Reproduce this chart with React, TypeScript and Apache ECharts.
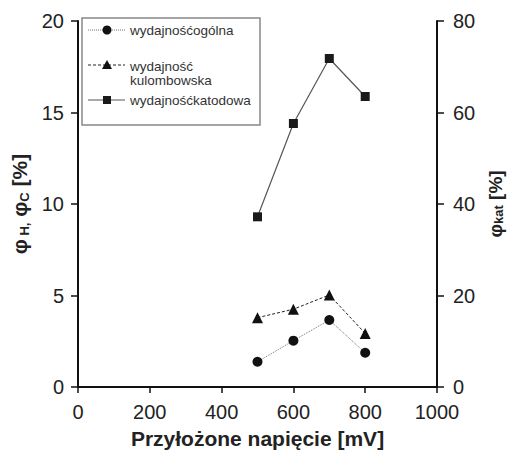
import React, { useEffect, useRef } from "react";
import * as echarts from "echarts";

const voltages = [500, 600, 700, 800];
const overall = [1.38, 2.53, 3.66, 1.87];
const coulombic = [3.79, 4.25, 5.03, 2.93];
const cathodic = [37.2, 57.6, 71.8, 63.5];
const leftTicks = [0, 20];
const rightTicks = [0, 80];
const xRange = [0, 1000];

const FONT = "Liberation Sans, Arial, sans-serif";
const TXT = "#222";

export default function App() {
  const ref = useRef<HTMLDivElement>(null);
  useEffect(() => {
    const chart = echarts.init(ref.current!, undefined, { renderer: "svg" });
    const pair = (ys: number[]) => voltages.map((v, i) => [v, ys[i]]);
    const legendX = 88;
    const legendTextX = 130;
    chart.setOption({
      animation: false,
      textStyle: { fontFamily: FONT },
      grid: { left: 78, right: 72, top: 21, bottom: 63, containLabel: false, outerBoundsMode: "none" },
      xAxis: {
        type: "value",
        min: xRange[0],
        max: xRange[1],
        interval: 200,
        splitLine: { show: false },
        axisLine: { lineStyle: { color: "#111", width: 2 } },
        axisTick: { inside: false, length: 6, lineStyle: { color: "#111", width: 1.5 } },
        axisLabel: { color: TXT, fontSize: 20, margin: 15, fontFamily: FONT, formatter: (v: number) => String(v) },
        name: "Przyłożone napięcie [mV]",
        nameLocation: "middle",
        nameGap: 41,
        nameTextStyle: { color: TXT, fontSize: 21, fontWeight: "bold", fontFamily: FONT },
      },
      yAxis: [
        {
          type: "value",
          min: leftTicks[0],
          max: leftTicks[1],
          interval: 5,
          splitLine: { show: false },
          axisLine: { show: true, lineStyle: { color: "#111", width: 2 } },
          axisTick: { show: true, length: 7, lineStyle: { color: "#111", width: 1.5 } },
          axisLabel: { color: TXT, fontSize: 20, margin: 14, fontFamily: FONT },
          name: "{b|φ}{s| H,}{b| φ}{s|C}{b| [%]}",
          nameLocation: "middle",
          nameRotate: 90,
          nameGap: 42,
          nameTextStyle: {
            color: TXT,
            fontFamily: FONT,
            rich: {
              b: { fontSize: 21, fontWeight: "bold", color: TXT, lineHeight: 22, fontFamily: FONT },
              s: { fontSize: 13, fontWeight: "bold", color: TXT, lineHeight: 14, verticalAlign: "bottom", fontFamily: FONT },
            },
          },
        },
        {
          type: "value",
          min: rightTicks[0],
          max: rightTicks[1],
          interval: 20,
          position: "right",
          splitLine: { show: false },
          axisLine: { show: true, lineStyle: { color: "#111", width: 2 } },
          axisTick: { show: true, length: 7, lineStyle: { color: "#111", width: 1.5 } },
          axisLabel: { color: TXT, fontSize: 20, margin: 16, fontFamily: FONT },
          name: "{b|φ}{s|kat}{b| [%]}",
          nameLocation: "middle",
          nameRotate: 90,
          nameGap: 49,
          nameTextStyle: {
            color: TXT,
            fontFamily: FONT,
            rich: {
              b: { fontSize: 19, fontWeight: "bold", color: TXT, lineHeight: 19, fontFamily: FONT },
              s: { fontSize: 13, fontWeight: "bold", color: TXT, lineHeight: 13, verticalAlign: "bottom", fontFamily: FONT },
            },
          },
        },
      ],
      series: [
        {
          name: "wydajnośćogólna",
          type: "line",
          yAxisIndex: 0,
          data: pair(overall),
          symbol: "circle",
          symbolSize: 10,
          itemStyle: { color: "#111" },
          lineStyle: { color: "#777", width: 1, type: "dotted" },
        },
        {
          name: "wydajność kulombowska",
          type: "line",
          yAxisIndex: 0,
          data: pair(coulombic),
          symbol: "triangle",
          symbolSize: 11,
          itemStyle: { color: "#111" },
          lineStyle: { color: "#222", width: 1, type: [3, 2] },
        },
        {
          name: "wydajnośćkatodowa",
          type: "line",
          yAxisIndex: 1,
          data: pair(cathodic),
          symbol: "rect",
          symbolSize: 9,
          itemStyle: { color: "#1a1a1a" },
          lineStyle: { color: "#555", width: 1.2, type: "solid" },
        },
      ],
      graphic: [
        { type: "rect", shape: { x: 82, y: 18, width: 178, height: 107 }, style: { fill: "#fff", stroke: "#888", lineWidth: 1.5 } },
        { type: "line", shape: { x1: legendX, y1: 30, x2: 125, y2: 30 }, style: { stroke: "#777", lineWidth: 1, lineDash: [1, 1] } },
        { type: "circle", shape: { cx: 107, cy: 30, r: 4.5 }, style: { fill: "#111" } },
        { type: "text", x: legendTextX, y: 30, style: { text: "wydajnośćogólna", fontSize: 13.5, fontFamily: FONT, fill: "#333", verticalAlign: "middle" } },
        { type: "line", shape: { x1: legendX, y1: 65, x2: 125, y2: 65 }, style: { stroke: "#222", lineWidth: 1, lineDash: [3, 2] } },
        { type: "polygon", shape: { points: [[107, 60], [112, 69], [102, 69]] }, style: { fill: "#111" } },
        { type: "text", x: legendTextX, y: 59, style: { text: "wydajność\nkulombowska", fontSize: 13.5, lineHeight: 14, fontFamily: FONT, fill: "#333", verticalAlign: "top" } },
        { type: "line", shape: { x1: legendX, y1: 100, x2: 125, y2: 100 }, style: { stroke: "#555", lineWidth: 1.2 } },
        { type: "rect", shape: { x: 103, y: 96, width: 8, height: 8 }, style: { fill: "#1a1a1a" } },
        { type: "text", x: legendTextX, y: 100, style: { text: "wydajnośćkatodowa", fontSize: 13.5, fontFamily: FONT, fill: "#333", verticalAlign: "middle" } },
      ],
    });
    return () => chart.dispose();
  }, []);
  return (
    <div
      ref={ref}
      style={{ position: "fixed", left: 0, top: 0, width: 509, height: 450, background: "#fff" }}
    />
  );
}
